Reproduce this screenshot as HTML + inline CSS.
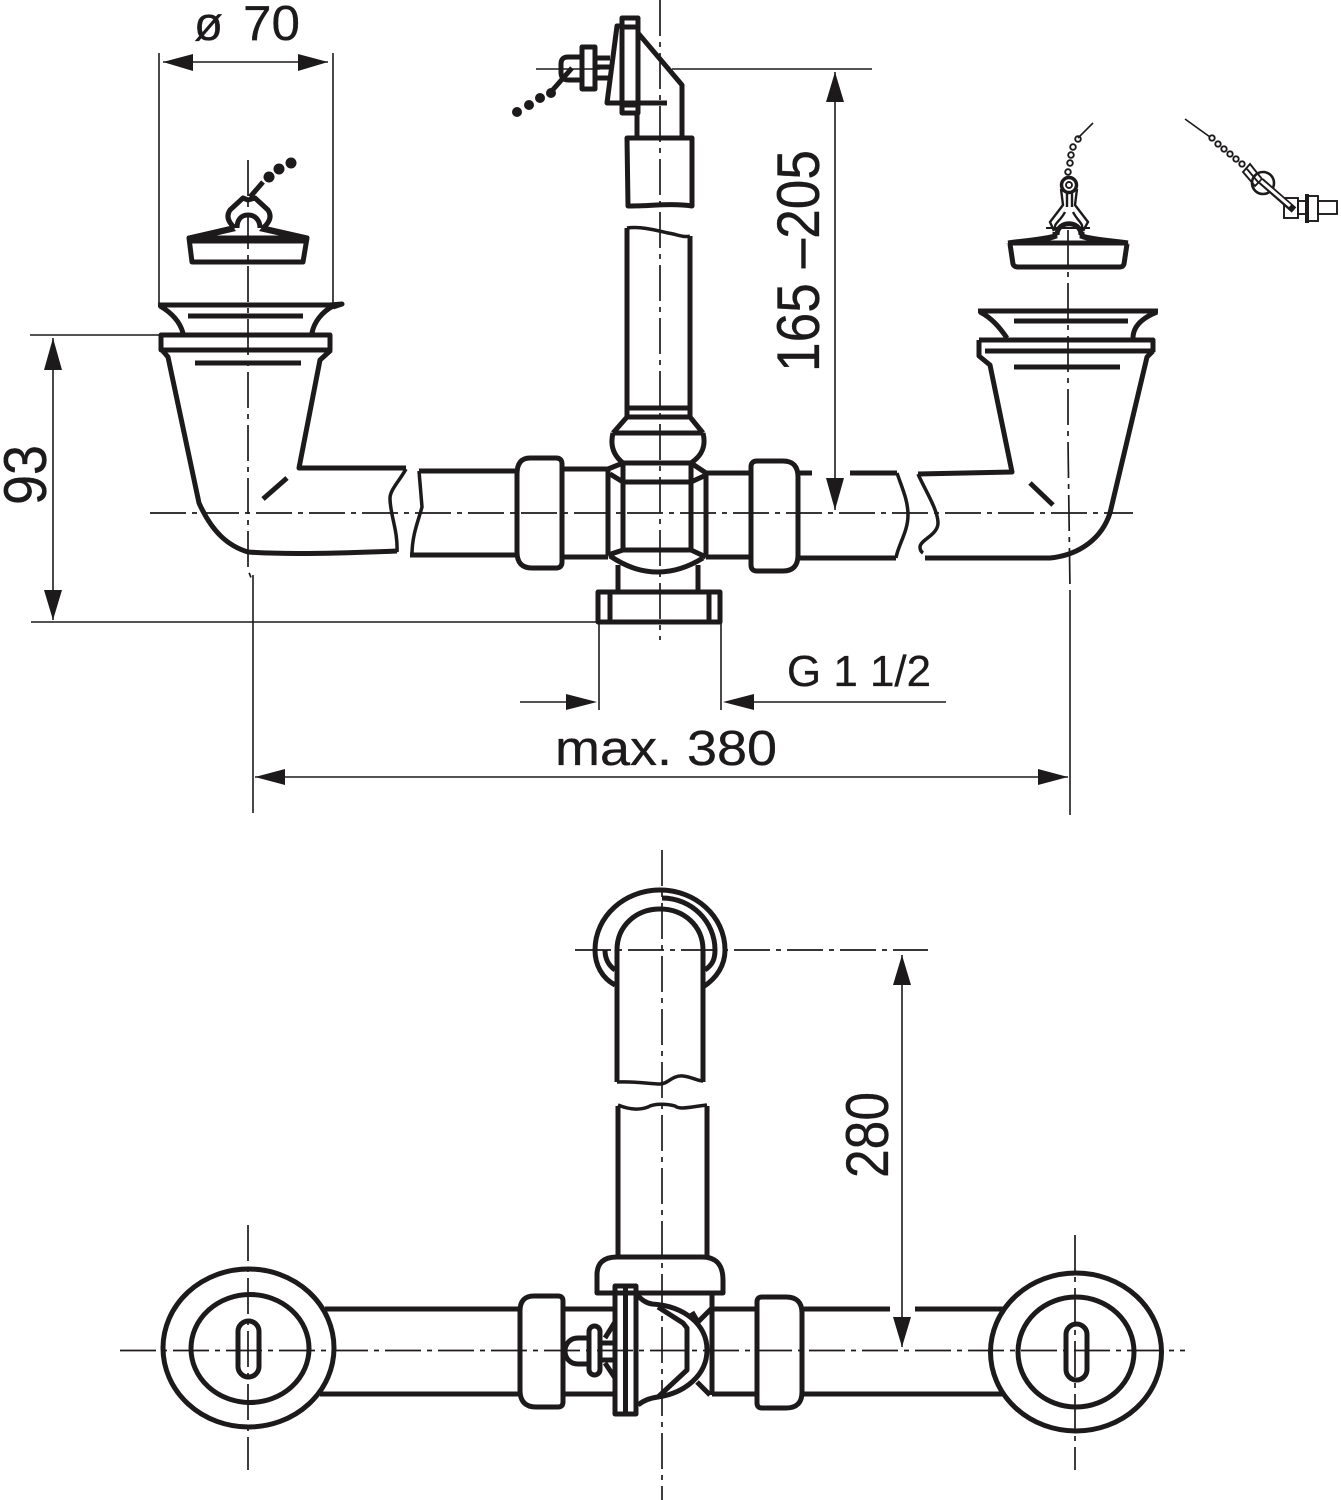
<!DOCTYPE html>
<html><head><meta charset="utf-8"><style>
html,body{margin:0;padding:0;background:#fff}
svg{display:block}
text{font-family:"Liberation Sans",sans-serif;fill:#1d1a1b;stroke:#1d1a1b;stroke-width:.3}
.m{fill:none;stroke:#1d1a1b;stroke-width:5;stroke-linejoin:round}
.b{fill:none;stroke:#1d1a1b;stroke-width:3.5}
.t{fill:none;stroke:#1d1a1b;stroke-width:1.6}
.c{fill:none;stroke:#1d1a1b;stroke-width:1.7;stroke-dasharray:36 6 5 6}
.a{fill:#1d1a1b;stroke:none}
.d{fill:#1d1a1b;stroke:none}
.f{fill:none;stroke:#1d1a1b;stroke-width:1.9}
</style></head><body>
<svg width="1341" height="1500" viewBox="0 0 1341 1500" xmlns="http://www.w3.org/2000/svg">
<rect width="1341" height="1500" fill="#fff"/>

<!-- centre lines -->
<path class="c" d="M150 513H1133"/>
<path class="c" d="M660 0V640"/>
<path class="c" d="M248 160V570L252 580"/>
<path class="c" d="M1068 230V440L1070 590"/>
<path class="c" d="M662 850V1500"/>
<path class="c" d="M575 950H928"/>

<!-- dimension thin lines -->
<path class="t" d="M159 53V305M333 53V305M30 335H162M31 622H598M599 622V710M721 622V710M253 575V813M1070 590V815M536 69H600M672 69H872"/>
<path class="t" d="M163 62H328M53 338V620M835 72V510M520 702H590M730 702H946M255 777H1068M902 955V1347"/>
<path class="a" d="M163 62L193 54V71ZM328 62L298 54V71Z"/>
<path class="a" d="M53 338L44 370H62ZM53 620L44 590H62Z"/>
<path class="a" d="M835 72L826 102H844ZM835 510L826 478H844Z"/>
<path class="a" d="M597 702L566 694V710ZM723 702L754 694V710Z"/>
<path class="a" d="M255 777L285 769V785ZM1068 777L1038 769V785Z"/>
<path class="a" d="M902 955L893 985H911ZM902 1347L893 1317H911Z"/>

<!-- text -->
<text x="194" y="40" font-size="47" textLength="29" lengthAdjust="spacingAndGlyphs">ø</text>
<text x="243" y="40" font-size="49" textLength="57" lengthAdjust="spacingAndGlyphs">70</text>
<text x="555" y="765" font-size="49" textLength="222" lengthAdjust="spacingAndGlyphs">max. 380</text>
<text x="787" y="686" font-size="44" textLength="144" lengthAdjust="spacingAndGlyphs">G 1 1/2</text>
<text transform="translate(46 505) rotate(-90)" font-size="60" textLength="60" lengthAdjust="spacingAndGlyphs">93</text>
<text transform="translate(819 372) rotate(-90)" font-size="60" textLength="222" lengthAdjust="spacingAndGlyphs">165 –205</text>
<text transform="translate(888 1178) rotate(-90)" font-size="60" textLength="86" lengthAdjust="spacingAndGlyphs">280</text>

<!-- left plug -->
<path class="m" d="M189 238L232 228M307 238L263 228M189 238L192 262H303L307 238ZM189 241H307"/>
<path class="a" d="M187 236L232 226L236 231L206 238H187ZM309 236L263 226L259 231L290 238H309Z"/>
<path class="m" d="M235 228C228 222 226 216 230 210L243 198L248 200L255 198L268 210C272 216 270 222 263 228"/>
<path class="m" d="M237 228C237 220 241 215 248 215C255 215 260 220 260 228"/>
<path class="m" d="M250 197L263 182"/>
<circle class="d" cx="269" cy="177" r="5.5"/><circle class="d" cx="279" cy="169" r="5.5"/><circle class="d" cx="291" cy="163" r="5.5"/>

<!-- left strainer -->
<path class="m" d="M158 305H330L342 304L333 307M160 306C172 313 180 322 183 333M333 306C322 312 314 322 312 333"/>
<path class="m" d="M188 316H303M195 363H301"/>
<rect class="m" x="161" y="335" width="169" height="15"/>
<path class="m" d="M162 350L168 357L199 503C212 532 228 546 248 552C290 555 350 553 397 551M331 350L320 360L299 468H406"/>
<path class="b" d="M406 469C400 480 390 490 390 498C390 515 398 530 397 552"/>
<path class="m" d="M263 499L287 478"/>

<!-- left middle pipe -->
<path class="m" d="M419 471H517M410 555H517"/>
<path class="b" d="M419 471L422 507C418 522 412 535 412 555"/>

<!-- T joint -->
<path class="m" d="M517 471V554M562 469H608M562 557H608"/>
<path class="m" d="M706 473H751M706 557H751M798 473H812M850 473H897M798 558H896"/>
<path class="b" d="M897 473C902 488 908 500 908 515C908 532 898 545 896 558"/>
<path class="m" d="M530 458H556Q562 458 562 464V562Q562 568 556 568H532Q517 568 517 552V474Q517 458 530 458Z"/>
<path class="m" d="M757 461H783Q798 461 798 477V555Q798 571 783 571H757Q751 571 751 565V467Q751 461 757 461Z"/>
<path class="m" d="M608 469V555M706 473V557M623 463V550M691 463V550M623 463H691M623 482H691M623 550H691"/>
<path class="m" d="M608 469L623 463M706 473L691 463M610 474L623 482M704 476L691 482M608 555L623 550M706 557L691 550"/>
<path class="m" d="M610 556C625 566 640 572 658 572C675 572 690 566 703 558"/>
<path class="m" d="M618 565V592M698 565V592"/>
<path class="m" d="M598 592H720V622H598ZM610 592V622M709 592V622"/>

<!-- vertical pipe, ball joint -->
<path class="m" d="M627 228V417L613 433M690 236V417L703 433M627 408H690M627 417H690M613 433H703"/>
<path class="m" d="M613 433C610 445 613 455 623 463M703 433C706 445 703 455 691 463"/>
<path class="b" d="M627 228C640 226 655 230 668 233C676 234 684 238 690 236"/>

<!-- top fitting -->
<path class="m" d="M627 138H692V206C672 203 650 206 628 206Z"/>
<path class="m" d="M637 113V138M682 138V85L638 33"/>
<path class="m" d="M622 18H638V113H622ZM622 27H638M622 105H638"/>
<path class="m" d="M622 26H617L607 103H667"/>
<path class="m" d="M582 47H595V89H582ZM595 58H610M595 67H610M595 78H610"/>
<path class="m" d="M582 57H568Q561 57 561 64V72Q561 80 568 80H582"/>
<path class="m" d="M572 68L550 93"/>
<circle class="d" cx="551" cy="93" r="5"/><circle class="d" cx="540" cy="98" r="5"/><circle class="d" cx="529" cy="105" r="5"/><circle class="d" cx="517" cy="112" r="5"/>

<!-- right chain + plug -->
<path class="t" d="M1093 123L1078 138"/>
<g class="f"><circle cx="1078" cy="139" r="2.8"/><circle cx="1073" cy="147" r="2.8"/><circle cx="1071" cy="155" r="2.8"/><circle cx="1070" cy="163" r="2.8"/><circle cx="1068" cy="172" r="2.8"/></g>
<circle cx="1069" cy="185" r="7.5" fill="#fff" stroke="#1d1a1b" stroke-width="3.5"/><circle class="f" cx="1069" cy="185" r="3"/>
<path class="f" style="stroke-width:2.4" d="M1061 189L1063 205L1050 222L1054 231M1077 189L1075 205L1088 222L1083 231M1067 193V207M1072 193V207M1056 230C1052 224 1060 222 1065 212M1081 230C1085 224 1078 222 1073 212"/>
<path class="m" d="M1057 235C1057 220 1081 220 1081 235"/>
<path class="f" d="M1046 228H1090"/>
<path class="m" d="M1008 243C1030 240 1045 239 1055 236V232M1128 243C1105 240 1090 239 1082 236V232M1008 243H1128M1010 244L1013 264Q1014 267 1018 267H1120Q1123 267 1124 264L1127 244"/>
<path class="a" d="M1006 244C1030 238 1045 238 1053 234L1058 238C1050 241 1040 243 1030 245ZM1130 244C1108 238 1092 238 1084 234L1079 238C1087 241 1097 243 1107 245Z"/>

<!-- right strainer -->
<path class="m" d="M978 311H1158M980 312C992 318 1000 328 1007 338M1157 312C1142 318 1133 326 1133 338"/>
<path class="m" d="M1014 321H1128M1014 367H1120"/>
<path class="m" d="M979 340H1153V352M985 351H1153M979 340V356L990 365L1012 472L918 474"/>
<path class="b" d="M918 474C925 490 938 510 938 523C938 535 920 540 920 547Q920 551 923 553"/>
<path class="m" d="M925 558H1050C1080 555 1102 538 1110 513L1147 357L1153 351"/>
<path class="m" d="M1030 483L1053 505"/>

<!-- right small fitting -->
<path class="t" d="M1185 119L1210 137"/>
<g class="f"><circle cx="1212" cy="138" r="2.7"/><circle cx="1218" cy="144" r="2.7"/><circle cx="1224" cy="149" r="2.7"/><circle cx="1230" cy="154" r="2.7"/><circle cx="1236" cy="159" r="2.7"/><circle cx="1242" cy="164" r="2.7"/></g>
<g class="f"><circle cx="1263" cy="183" r="11" style="stroke-width:2.6"/><path d="M1243 172L1250 164L1262 179L1255 186ZM1247 169L1258 182"/><rect x="1284" y="198" width="14" height="20"/><rect x="1298" y="201" width="9" height="13"/><rect x="1308" y="196" width="10" height="25"/><rect x="1318" y="201" width="19" height="13"/></g>
<path d="M1261 181L1294 210" stroke="#1d1a1b" stroke-width="7" fill="none"/>
<path d="M1261 181L1290 206" stroke="#fff" stroke-width="3" fill="none"/>
<path class="m" style="stroke-width:4" d="M1307 194V223"/>

<!-- bottom view top bend -->
<path class="m" d="M615 985C602 978 595 965 595 950C595 916 625 890 660 890C695 890 725 916 725 950C725 965 717 978 703 987"/>
<path class="m" d="M617 1082V950C617 926 636 909 660 909C684 909 703 926 703 950V1082"/>
<path class="m" d="M662 898C692 898 715 922 715 950C715 960 712 965 705 970M605 950C605 958 608 965 615 970"/>
<path class="b" d="M617 1082C635 1081 650 1084 660 1084C668 1084 672 1075 683 1076C692 1077 698 1081 703 1081"/>
<path class="m" d="M618 1258V1106M707 1258V1106"/>
<path class="b" d="M618 1105C630 1110 640 1110 648 1107C655 1103 668 1104 675 1106C680 1110 690 1107 707 1105"/>

<!-- bottom view T -->
<path class="m" d="M597 1293V1275Q597 1257 617 1257H702Q723 1257 723 1280V1293H597Z" fill="#fff"/>
<path class="m" d="M712 1293V1395M325 1309H520M320 1394H520M565 1309H615M565 1394H615M712 1309H757M712 1394H757M802 1309H890M915 1309H1003M802 1394H1003"/>
<path class="m" d="M534 1296H558Q563 1296 563 1301V1402Q563 1407 558 1407H536Q520 1407 520 1390V1311Q520 1296 534 1296Z"/>
<path class="m" d="M762 1297H786Q802 1297 802 1313V1392Q802 1408 786 1408H762Q757 1408 757 1403V1302Q757 1297 762 1297Z"/>
<path class="m" d="M615 1286H636V1414H615ZM625.5 1286V1414"/>
<path class="m" d="M637 1295C642 1300 646 1303 652 1304C685 1306 707 1325 707 1350C707 1375 685 1393 658 1397C650 1398 644 1400 638 1405"/>
<path class="m" d="M658 1307L683 1323L687 1328V1370L658 1397M692 1312L698 1322L712 1308M697 1382L710 1395"/>
<rect class="m" x="589" y="1326" width="11" height="49" rx="5.5"/>
<path class="m" d="M588 1338H578C570 1338 565 1344 565 1351C565 1358 570 1364 578 1364H588M600 1343H614M600 1360H614M605 1338L615 1322M605 1363L615 1378"/>

<!-- rings -->
<ellipse class="m" cx="248.5" cy="1348" rx="85.5" ry="79" fill="#fff"/>
<ellipse class="m" cx="250" cy="1348.5" rx="59" ry="54"/>
<rect class="m" x="238" y="1321" width="21" height="56" rx="10.5"/>
<ellipse class="m" cx="1076" cy="1352" rx="85.5" ry="79" fill="#fff"/>
<ellipse class="m" cx="1076" cy="1352" rx="58" ry="55"/>
<rect class="m" x="1066" y="1324" width="21" height="56" rx="10.5"/>
<path class="c" d="M120 1350.5H1185M248 1225V1470M1075 1235V1470"/>
</svg>
</body></html>
